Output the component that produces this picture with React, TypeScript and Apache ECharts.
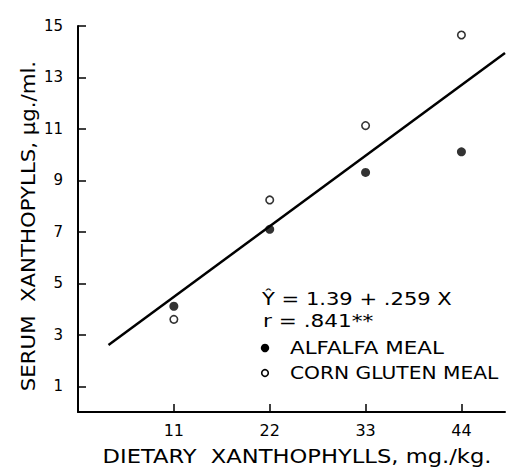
import React, { useEffect, useRef } from "react";
import * as echarts from "echarts";

const doseX = [11, 22, 33, 44];
const alfalfaY = [4.11, 7.1, 9.31, 10.11];
const cornGlutenY = [3.6, 8.24, 11.13, 14.65];
const fitX = [3.5, 49];
const fitY = [2.6, 13.95];
const xTicks = [11, 22, 33, 44];
const yTicks = [1, 3, 5, 7, 9, 11, 13, 15];

const FONT = "DejaVu Sans";

export default function App() {
  const ref = useRef<HTMLDivElement>(null);
  useEffect(() => {
    if (!ref.current) return;
    const chart = echarts.init(ref.current, null, { renderer: "svg" });
    const txt = (text: string, x: number, y: number, size: number, sx: number, align = "left", rotation = 0) => ({
      type: "text",
      x,
      y,
      scaleX: sx,
      rotation,
      style: {
        text,
        x: 0,
        y: 0,
        fill: "#000",
        fontSize: size,
        fontFamily: FONT,
        align,
        verticalAlign: "middle",
        textAlign: align,
        textVerticalAlign: "middle",
      },
    });
    chart.setOption({
      animation: false,
      backgroundColor: "#fff",
      grid: { left: 78, right: 2, top: 26, bottom: 56 },
      xAxis: {
        type: "value",
        min: 0,
        max: 49,
        axisLine: { show: true, lineStyle: { color: "#000", width: 2 } },
        axisTick: { show: true, inside: true, length: 8, customValues: xTicks, lineStyle: { color: "#000", width: 1.5 } },
        axisLabel: { customValues: xTicks, color: "#000", fontSize: 16, fontFamily: FONT, margin: 10 },
        splitLine: { show: false },
      },
      yAxis: {
        type: "value",
        min: 0,
        max: 15,
        axisLine: { show: true, lineStyle: { color: "#000", width: 2 } },
        axisTick: { show: true, inside: true, length: 8, customValues: yTicks, lineStyle: { color: "#000", width: 1.5 } },
        axisLabel: { customValues: yTicks, color: "#000", fontSize: 15, fontFamily: FONT, margin: 15 },
        splitLine: { show: false },
      },
      series: [
        {
          name: "Regression",
          type: "line",
          data: fitX.map((x, i) => [x, fitY[i]]),
          showSymbol: false,
          symbol: "none",
          lineStyle: { color: "#000", width: 2.5 },
          z: 1,
        },
        {
          name: "ALFALFA MEAL",
          type: "scatter",
          data: doseX.map((x, i) => [x, alfalfaY[i]]),
          symbol: "circle",
          symbolSize: 9,
          itemStyle: { color: "#000" },
          z: 3,
        },
        {
          name: "CORN GLUTEN MEAL",
          type: "scatter",
          data: doseX.map((x, i) => [x, cornGlutenY[i]]),
          symbol: "circle",
          symbolSize: 7.5,
          itemStyle: { color: "#fff", borderColor: "#000", borderWidth: 1.6 },
          z: 3,
        },
      ],
      graphic: [
        txt("DIETARY  XANTHOPHYLLS, mg./kg.", 297, 457, 19, 1.19, "center"),
        txt("SERUM  XANTHOPYLLS, μg./ml.", 28, 226, 19, 1.12, "center", Math.PI / 2),
        txt("Ŷ = 1.39 + .259 X", 262, 299, 17, 1.24),
        txt("r = .841**", 263, 321, 17, 1.27),
        txt("ALFALFA MEAL", 290, 348, 17, 1.26),
        txt("CORN GLUTEN MEAL", 290, 373, 17, 1.19),
        { type: "circle", shape: { cx: 265, cy: 348, r: 4.2 }, style: { fill: "#000" } },
        { type: "circle", shape: { cx: 265, cy: 373, r: 3.3 }, style: { fill: "#fff", stroke: "#000", lineWidth: 1.6 } },
      ],
    });
    return () => chart.dispose();
  }, []);
  return <div ref={ref} style={{ position: "fixed", left: 0, top: 0, width: 507, height: 468 }} />;
}
